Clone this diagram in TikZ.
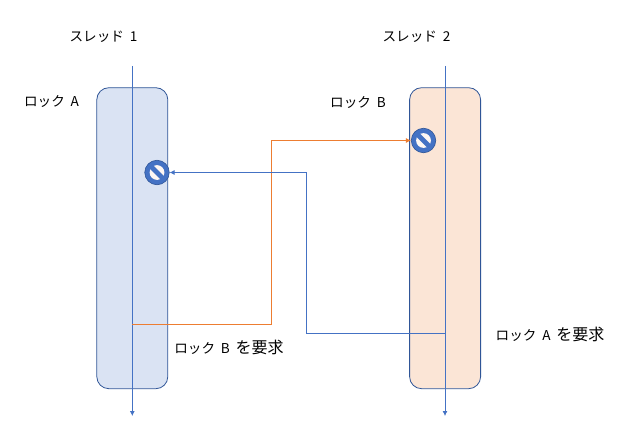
\documentclass[tikz,border=0pt]{standalone}
\usepackage{fontspec}
\setmainfont[WordSpace=1.9]{Noto Sans CJK JP}
\usetikzlibrary{arrows.meta}
\definecolor{lineblue}{HTML}{4472C4}
\definecolor{lineorange}{HTML}{ED7D31}
\definecolor{fillblue}{HTML}{DAE3F3}
\definecolor{fillorange}{HTML}{FBE5D6}
\definecolor{edgeblue}{HTML}{2F5597}
\newcommand{\bigkanji}[1]{{\fontsize{16pt}{16pt}\selectfont #1}}
\tikzset{
  lockbar/.style={draw=edgeblue,rounded corners=12pt,line width=0.8pt,minimum width=71pt,minimum height=301pt,inner sep=0pt,anchor=north west},
  lifeline/.style={draw=lineblue,line width=0.8pt,-{Latex[length=5pt,width=5pt]}},
  lockreq/.style={line width=0.8pt,-{Latex[length=5pt,width=5pt]}},
  caption/.style={font=\fontsize{13.6pt}{16pt}\selectfont,inner sep=0pt,text=black}
}
\begin{document}
\begin{tikzpicture}[x=1pt,y=-1pt]
  \useasboundingbox (0,0) rectangle (626,428);
  \node[lockbar,fill=fillblue] (barA) at (96.4,87.3) {}; % thread 1 bar
  \node[lockbar,fill=fillorange] (barB) at (409.2,87.3) {}; % thread 2 bar
  \coordinate (topA) at (132.3,66);
  \coordinate (endA) at (132.3,416);
  \coordinate (topB) at (445,66);
  \coordinate (endB) at (445,416);
  \draw[lifeline] (topA) -- (endA); % thread 1
  \draw[lifeline] (topB) -- (endB); % thread 2
  \node[caption] (thrA) at (103.5,37) {スレッド 1};
  \node[caption] (thrB) at (416.5,37) {スレッド 2};
  \node[caption] (lockA) at (51.5,102) {ロック A};
  \node[caption] (lockB) at (358,103) {ロック B};
  \node[caption] (reqB) at (229,347) {ロック B \bigkanji{を要求}};
  \node[caption] (reqA) at (550,334) {ロック A \bigkanji{を要求}};
  % no-entry marks
  \foreach \name/\px/\py in {stopA/157/172.5,stopB/423.5/140.5} {
    \node[circle,draw=edgeblue,fill=lineblue,line width=0.6pt,minimum size=24.5pt,inner sep=0pt] (\name) at (\px,\py) {};
    \fill[fillorange!30!white] (\px,\py) circle (7.4pt);
    \draw[lineblue,line width=4.8pt] (\px-6,\py-6) -- (\px+6,\py+6);
  }
  \coordinate (fromA) at (132.3,324);
  \coordinate (fromB) at (445,333);
  \draw[lockreq,lineorange] (fromA) -- (271.5,324) -- (271.5,140.5) -- (stopB.west);
  \draw[lockreq,lineblue] (fromB) -- (306.5,333) -- (306.5,172.5) -- (stopA.east);
\end{tikzpicture}
\end{document}
